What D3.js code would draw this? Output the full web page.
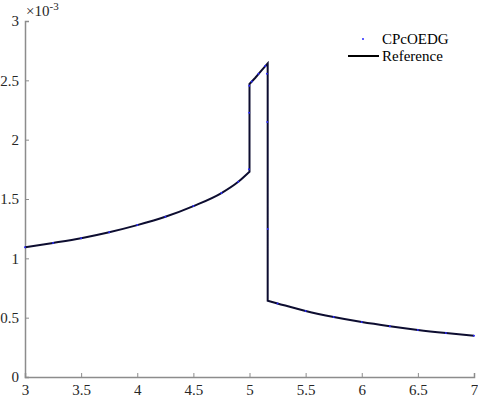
<!DOCTYPE html>
<html><head><meta charset="utf-8">
<script src="https://cdn.jsdelivr.net/npm/d3@7"></script>
<style>body{margin:0;background:#fff}svg{display:block}text{font-family:"Liberation Serif","Times New Roman",serif;}</style>
</head><body>
<svg id="c" width="478" height="398"></svg>
<script>
// Reference solution (values in units of 1e-3)
const refX = [3,3.25,3.5,3.75,4,4.25,4.5,4.75,4.9,5.0,5.0,5.05,5.1,5.162,5.162,5.25,5.5,5.75,6,6.25,6.5,6.75,7];
const refY = [1.093,1.13,1.17,1.22,1.28,1.35,1.44,1.55,1.645,1.73,2.469,2.52,2.575,2.643,0.643,0.62,0.556,0.505,0.463,0.428,0.397,0.371,0.348];
// CPcOEDG numerical points (units of 1e-3)
const numX = [3,3.25,3.5,3.75,4,4.25,4.5,4.75,4.9,4.995,4.997,4.998,5.02,5.08,5.14,5.155,5.158,5.163,5.25,5.5,5.75,6,6.25,6.5,6.75,7];
const numY = [1.093,1.13,1.17,1.22,1.28,1.35,1.44,1.55,1.645,1.75,2.227,2.455,2.49,2.555,2.62,2.556,2.149,1.247,0.62,0.556,0.505,0.463,0.428,0.397,0.371,0.348];
const xTicks = [3,3.5,4,4.5,5,5.5,6,6.5,7];
const yTicks = [0,0.5,1,1.5,2,2.5,3];
const legendNames = ["CPcOEDG","Reference"];

const svg = d3.select("#c");
const x = d3.scaleLinear().domain([3,7]).range([25,474]);
const y = d3.scaleLinear().domain([0,3]).range([377,21]);
const axisCol = "#8c8c8c", textCol = "#262626";
const FONT = '"Liberation Serif","Times New Roman",serif';

const gx = svg.append("g").attr("transform","translate(0,377)")
  .call(d3.axisBottom(x).tickValues(xTicks).tickSize(-4).tickPadding(8).tickFormat(d3.format("")));
const gy = svg.append("g").attr("transform","translate(25,0)")
  .call(d3.axisLeft(y).tickValues(yTicks).tickSize(-4).tickPadding(6).tickFormat(d3.format("")));
[gx,gy].forEach(g=>{
  g.attr("font-family",FONT).attr("font-size",15);
  g.select(".domain").attr("stroke",axisCol).attr("stroke-width",1.5);
  g.selectAll(".tick line").attr("stroke",axisCol);
  g.selectAll(".tick text").attr("fill",textCol).style("font-size","15px").style("font-family",FONT);
});
gx.selectAll(".tick text").attr("y",7).attr("dy","0.71em");
gy.selectAll(".tick text").attr("x",-6);

// exponent label
const ex = svg.append("text").attr("x",26).attr("y",16).attr("fill",textCol).style("font-size","15px");
ex.append("tspan").text("×10");
ex.append("tspan").attr("dy",-6).style("font-size","11px").text("-3");

const idx = d3.range(refX.length);
const px = i=>x(refX[i]), py = i=>y(refY[i]);
const mono = d3.line().x(px).y(py).curve(d3.curveMonotoneX);
const lin = d3.line().x(px).y(py);
const pathD = mono(idx.slice(0,10)) + lin(idx.slice(9,15)).replace(/^M/,"L") + mono(idx.slice(14)).replace(/^M/,"L");
svg.append("path").attr("d",pathD).attr("fill","none").attr("stroke","#0d0d30").attr("stroke-width",2).attr("stroke-linejoin","miter");

svg.append("g").selectAll("circle").data(numX).join("circle")
  .attr("cx",(d)=>x(d)).attr("cy",(d,i)=>y(numY[i])).attr("r",1).attr("fill","#2a2aff");

// legend
const lg = svg.append("g");
lg.append("circle").attr("cx",363).attr("cy",39).attr("r",1).attr("fill","#2a2aff");
lg.append("text").attr("x",382).attr("y",44).attr("fill","#000").style("font-size","15px").text(legendNames[0]);
lg.append("line").attr("x1",348).attr("x2",379).attr("y1",56).attr("y2",56).attr("stroke","#000").attr("stroke-width",2);
lg.append("text").attr("x",382).attr("y",61).attr("fill","#000").style("font-size","15px").text(legendNames[1]);
</script>
</body></html>
